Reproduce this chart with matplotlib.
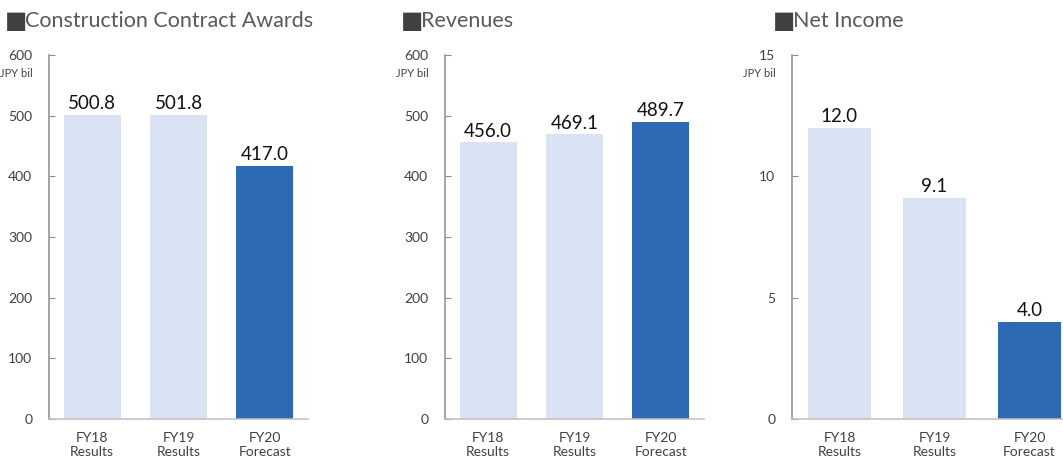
import matplotlib
matplotlib.use("Agg")
import matplotlib.pyplot as plt

plt.rcParams['font.family'] = ['Lato', 'DejaVu Sans']

categories = ["FY18\nResults", "FY19\nResults", "FY20\nForecast"]

awards = [500.8, 501.8, 417.0]
revenues = [456.0, 469.1, 489.7]
net_income = [12.0, 9.1, 4.0]

awards_ticks = [0, 100, 200, 300, 400, 500, 600]
revenue_ticks = [0, 100, 200, 300, 400, 500, 600]
income_ticks = [0, 5, 10, 15]

titles = ["Construction Contract Awards", "Revenues", "Net Income"]
unit = "JPY bil"

LIGHT = "#DAE3F3"
DARK = "#2E6AB4"
bar_colors = [LIGHT, LIGHT, DARK]

W, H = 1063, 463
fig = plt.figure(figsize=(W / 100, H / 100), dpi=100)


def px_axes(left, right, top, bottom):
    return fig.add_axes([left / W, 1 - bottom / H, (right - left) / W, (bottom - top) / H])


panels = [
    dict(box=(49, 308, 55, 419), data=awards, ticks=awards_ticks, title=titles[0],
         title_x=5),
    dict(box=(445, 704, 55, 419), data=revenues, ticks=revenue_ticks, title=titles[1],
         title_x=401),
    dict(box=(792, 1077, 55, 419), data=net_income, ticks=income_ticks, title=titles[2],
         title_x=773),
]

for p in panels:
    left, right, top, bottom = p["box"]
    ax = px_axes(left, right, top, bottom)
    xs = range(len(categories))
    bars = ax.bar(xs, p["data"], width=0.66, color=bar_colors, zorder=2)
    ax.set_xlim(-0.5, len(categories) - 0.5)
    ax.set_ylim(p["ticks"][0], p["ticks"][-1])
    ax.set_yticks(p["ticks"])
    ax.set_yticklabels([str(t) for t in p["ticks"]])
    ax.set_xticks(list(xs))
    ax.set_xticklabels(categories, fontsize=10, color="#404040", linespacing=1.3)
    ax.tick_params(axis='x', length=0, pad=9)
    ax.tick_params(axis='y', direction='in', length=4, color="#8C8C8C",
                   labelsize=10, labelcolor="#404040", pad=12)
    for side in ("top", "right"):
        ax.spines[side].set_visible(False)
    ax.spines["left"].set_color("#8C8C8C")
    ax.spines["bottom"].set_color("#BFBFBF")
    ax.spines["left"].set_linewidth(1.1)
    ax.spines["bottom"].set_linewidth(1.1)
    for b, v in zip(bars, p["data"]):
        ax.annotate(f"{v:.1f}", (b.get_x() + b.get_width() / 2, v),
                    xytext=(0, 2), textcoords="offset points",
                    ha="center", va="bottom", fontsize=13.5, color="#111111")
    # unit label under the top tick
    ax.annotate(unit, (0, 1), xycoords="axes fraction", xytext=(-12, -13),
                textcoords="offset points", ha="right", va="center",
                fontsize=8, color="#404040")
    # panel heading with a square marker
    fig.text(p["title_x"] / W, 1 - 21 / H, "\u25A0", fontsize=17, color="#404040",
             va="center", ha="left", family=['DejaVu Sans'])
    fig.text((p["title_x"] + 20) / W, 1 - 21 / H, p["title"], fontsize=15.5,
             color="#595959", va="center", ha="left")

fig.savefig("out.png", dpi=100)
